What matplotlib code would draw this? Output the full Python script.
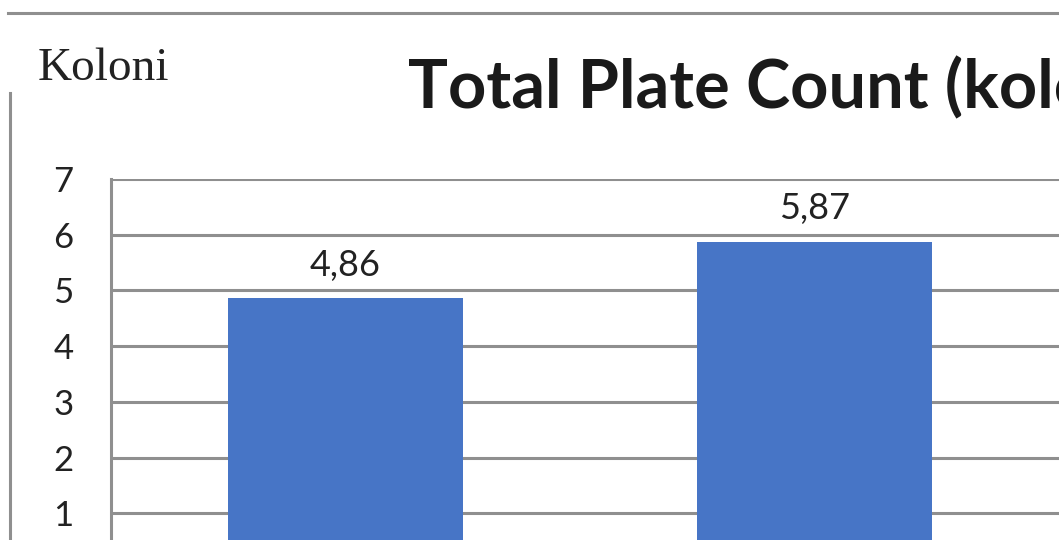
import matplotlib.pyplot as plt
from matplotlib.lines import Line2D

categories = ["A", "B"]
values = [4.86, 5.87]
yticks = [1, 2, 3, 4, 5, 6, 7]

W, H = 1059, 540
fig = plt.figure(figsize=(W / 100, H / 100), dpi=100)
fig.patch.set_facecolor("white")

grid_col = "#8f8f8f"
text_col = "#222222"
bar_col = "#4775c6"

# plot area runs past the right and bottom edges of the figure
left_px, right_px = 111, 1059
y0_px, y7_px = 569, 179
cat_px = 469
ax = fig.add_axes([left_px / W, (H - y0_px) / H,
                   (right_px - left_px) / W, (y0_px - y7_px) / H])
x = list(range(len(categories)))
bars = ax.bar(x, values, width=0.5, color=bar_col, zorder=2)
ax.set_xlim(-0.5, (right_px - left_px) / cat_px - 0.5)
ax.set_ylim(0, 7)
ax.set_yticks(yticks)
ax.set_xticks([])
ax.yaxis.grid(True, color=grid_col, linewidth=2.2)
ax.set_axisbelow(True)
for s in ["top", "right", "bottom"]:
    ax.spines[s].set_visible(False)
ax.spines["left"].set_color(grid_col)
ax.spines["left"].set_linewidth(2.2)
ax.tick_params(axis="y", length=0, pad=27, labelsize=25, labelcolor=text_col)
for lab in ax.get_yticklabels():
    lab.set_fontfamily("Lato")

labels = [f"{v:.2f}".replace(".", ",") for v in values]
ax.bar_label(bars, labels=labels, padding=12, fontsize=26,
             fontfamily="Lato", color=text_col)

# outer chart frame
fig.add_artist(Line2D([8 / W, 1], [(H - 13) / H] * 2, transform=fig.transFigure,
                      color=grid_col, linewidth=2.2))
fig.add_artist(Line2D([10 / W] * 2, [(H - 93) / H, 0], transform=fig.transFigure,
                      color=grid_col, linewidth=2.2))

fig.text(38 / W, (H - 80) / H, "Koloni", fontsize=34, family="Liberation Serif",
         color=text_col, va="baseline", ha="left")
fig.text(408 / W, (H - 108) / H, "Total Plate Count (koloni)", fontsize=48,
         family="Lato", fontweight="bold", color="#1a1a1a",
         va="baseline", ha="left")

fig.savefig("out.png", dpi=100)
